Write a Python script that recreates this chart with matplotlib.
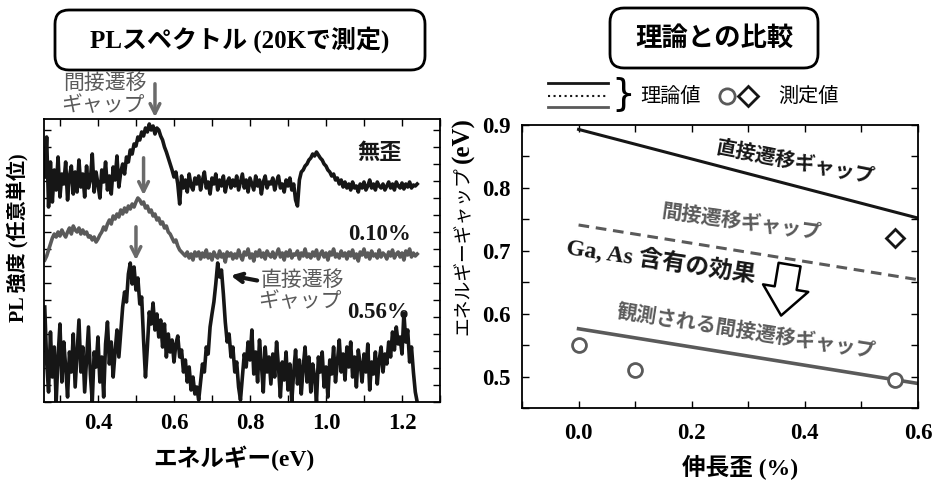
import numpy as np
import matplotlib
matplotlib.use('Agg')
import matplotlib.pyplot as plt
from matplotlib.patches import FancyBboxPatch, FancyArrowPatch
from matplotlib.lines import Line2D
from matplotlib.transforms import IdentityTransform
from matplotlib.ticker import MultipleLocator

plt.rcParams['font.family'] = ['Liberation Serif', 'Noto Sans CJK JP']
plt.rcParams['font.weight'] = 'bold'

JP = ['Noto Sans CJK JP', 'DejaVu Sans']
MIX = ['Liberation Serif', 'Noto Sans CJK JP']
GRIGIO = '#5a5a5a'
NERO = '#161616'

# energia dei spettri PL (eV), passo 0.005
energia = np.round(0.26 + 0.005 * np.arange(197), 3)

# intensita' PL (unita' arbitrarie, gia' sfalsate)
pl_senza = (
    [225, 265, 195, 240, 200, 232, 212, 245, 205, 228, 218, 240, 202, 226, 236, 208, 230, 210, 242, 215] +
    [228, 205, 236, 214, 222, 248, 210, 230, 218, 204, 232, 220, 240, 212, 226, 208, 235, 222, 246, 215] +
    [230, 238, 228, 245, 240, 252, 248, 258, 256, 265, 262, 270, 266, 274, 270, 278, 272, 276, 268, 274] +
    [272, 266, 262, 255, 250, 244, 238, 232, 225, 230, 218, 198, 226, 214, 222, 210, 228, 216, 212, 224] +
    [218, 226, 212, 222, 230, 214, 220, 208, 224, 218, 228, 212, 222, 216, 226, 210, 220, 224, 214, 222] +
    [216, 226, 212, 220, 228, 214, 222, 210, 224, 218, 212, 226, 216, 222, 208, 220, 226, 214, 220, 218] +
    [224, 212, 220, 226, 214, 218, 210, 222, 216, 224, 212, 218, 202, 196, 222, 230, 232, 236, 238, 242] +
    [244, 248, 246, 250, 247, 244, 242, 238, 236, 232, 230, 226, 228, 222, 224, 218, 222, 215, 220, 214] +
    [218, 212, 220, 214, 216, 210, 218, 214, 220, 212, 216, 222, 214, 218, 212, 220, 216, 214, 218, 212] +
    [216, 220, 214, 218, 212, 220, 216, 214, 219, 213, 218, 215, 220, 214, 217, 216, 218]
)
pl_010 = (
    [142, 146, 152, 158, 164, 168, 165, 170, 166, 172, 168, 165, 170, 174, 168, 176, 172, 170, 174, 168] +
    [172, 168, 170, 165, 166, 162, 165, 160, 163, 167, 170, 175, 172, 178, 182, 178, 186, 183, 188, 185] +
    [192, 188, 194, 190, 196, 193, 198, 195, 200, 204, 202, 198, 200, 194, 196, 190, 192, 186, 188, 182] +
    [184, 178, 180, 174, 176, 170, 168, 164, 160, 162, 156, 152, 150, 148, 146, 150, 144, 148, 142, 150] +
    [146, 150, 143, 149, 145, 152, 144, 148, 142, 150, 146, 144, 151, 145, 148, 140, 150, 146, 149, 143] +
    [148, 144, 152, 146, 142, 150, 147, 153, 144, 148, 141, 150, 146, 152, 145, 149, 143, 151, 147, 145] +
    [150, 144, 148, 153, 145, 149, 142, 150, 146, 152, 144, 148, 147, 151, 143, 149, 146, 153, 145, 148] +
    [144, 150, 146, 152, 143, 148, 151, 145, 149, 142, 150, 147, 153, 145, 148, 144, 151, 146, 149, 143] +
    [150, 146, 152, 144, 148, 141, 150, 147, 153, 145, 149, 143, 151, 146, 148, 144, 152, 145, 149, 147] +
    [143, 150, 146, 152, 144, 148, 150, 145, 149, 142, 151, 147, 153, 145, 149, 146, 148]
)
pl_056 = (
    [95, 40, 10, 70, 25, 55, 0, 45, 78, 20, 60, 35, 5, 50, 30, 68, 15, 48, 82, 30] +
    [55, 10, 42, 75, 28, 0, 50, 35, 65, 20, 45, 5, 58, 80, 38, 60, 25, 50, 72, 45] +
    [70, 95, 110, 100, 128, 139, 118, 135, 112, 124, 98, 105, 62, 25, 55, 90, 78, 99, 72, 88] +
    [65, 82, 55, 78, 45, 68, 50, 62, 40, 58, 66, 45, 52, 30, 42, 20, 35, 12, 25, 8] +
    [15, 2, 20, 38, 30, 55, 48, 75, 88, 100, 118, 139, 125, 132, 108, 80, 60, 68, 45, 55] +
    [30, 40, 15, 2, 25, 48, 35, 60, 42, 72, 28, 50, 20, 62, 38, 10, 55, 30, 45, 18] +
    [48, 25, 60, 35, 5, 40, 22, 50, 12, 38, 0, 30, 52, 18, 42, 8, 35, 55, 20, 45] +
    [10, 38, 25, 0, 45, 30, 50, 15, 35, 5, 42, 28, 55, 20, 40, 62, 30, 48, 22, 55] +
    [35, 60, 25, 45, 15, 52, 38, 20, 48, 30, 58, 12, 40, 28, 50, 18, 42, 55, 30, 48] +
    [38, 60, 45, 70, 52, 75, 58, 65, 48, 89, 60, 72, 40, 55, 30, 10, 0]
)

# confronto con la teoria
deform_teoria = [0.0, 0.6]
gap_diretto = [0.893, 0.752]
gap_indiretto = [0.741, 0.654]
gap_osservato = [0.576, 0.489]
deform_misura = [0.0, 0.1, 0.56]
gap_misura = [0.55, 0.51, 0.495]
deform_misura_dir = [0.56]
gap_misura_dir = [0.72]

fig = plt.figure(figsize=(9.38, 4.82), dpi=100)
W, H = 938, 482

# --- pannello sinistro: spettri PL ---
ax1 = fig.add_axes([44 / W, 80 / H, 396 / W, 283 / H])
ax1.plot(energia, pl_senza, color=NERO, lw=2.6)
ax1.plot(energia, pl_010, color=GRIGIO, lw=2.6)
ax1.plot(energia, pl_056, color=NERO, lw=2.6)
ax1.set_xlim(0.258, 1.30)
ax1.set_ylim(0, 283)
ax1.xaxis.set_major_locator(MultipleLocator(0.2))
ax1.xaxis.set_minor_locator(MultipleLocator(0.1))
ax1.yaxis.set_major_locator(MultipleLocator(17))
ax1.tick_params(which='both', direction='in', top=True, right=True, width=1, length=5)
ax1.tick_params(axis='x', labelsize=16.5, pad=8)
ax1.tick_params(axis='y', labelleft=False)
for s in ax1.spines.values():
    s.set_linewidth(1.3)

freccia_grigia = dict(arrowstyle='->,head_length=0.7,head_width=0.35', color='#6a6a6a', lw=2.5)
ax1.annotate('', xy=(0.55, 282), xytext=(0.55, 321), arrowprops=freccia_grigia, annotation_clip=False)
ax1.annotate('', xy=(0.52, 204), xytext=(0.52, 247), arrowprops=freccia_grigia)
ax1.annotate('', xy=(0.50, 139), xytext=(0.50, 178), arrowprops=freccia_grigia)
ax1.annotate('', xy=(0.742, 127), xytext=(0.826, 121),
             arrowprops=dict(arrowstyle='->,head_length=0.6,head_width=0.3', color=NERO, lw=3))

ax1.text(0.418, 319, '間接遷移', family=JP, weight='normal', fontsize=15, color=GRIGIO,
         ha='center', va='center', clip_on=False)
ax1.text(0.413, 297, 'ギャップ', family=JP, weight='normal', fontsize=15, color=GRIGIO,
         ha='center', va='center', clip_on=False)
ax1.text(0.937, 122, '直接遷移', family=JP, weight='normal', fontsize=15, color=GRIGIO,
         ha='center', va='center')
ax1.text(0.932, 101, 'ギャップ', family=JP, weight='normal', fontsize=15, color=GRIGIO,
         ha='center', va='center')
ax1.text(1.142, 250, '無歪', family=JP, weight='bold', fontsize=16, color=NERO, ha='center', va='center')
ax1.text(1.142, 167, '0.10%', fontsize=16.5, color=NERO, ha='center', va='center')
ax1.text(1.137, 90, '0.56%', fontsize=16.5, color=NERO, ha='center', va='center')

# --- pannello destro: confronto con la teoria ---
ax2 = fig.add_axes([522 / W, 74 / H, 396 / W, 283 / H])
ax2.plot(deform_teoria, gap_diretto, color=NERO, lw=2.2)
ax2.plot(deform_teoria, gap_indiretto, color=GRIGIO, lw=2.2, dashes=(3.5, 2.2))
ax2.plot(deform_teoria, gap_osservato, color=GRIGIO, lw=2.6)
ax2.plot(deform_misura, gap_misura, 'o', mfc='white', mec=GRIGIO, ms=10, mew=2)
ax2.plot(deform_misura_dir, gap_misura_dir, 'D', mfc='white', mec=NERO, ms=9.5, mew=2)
ax2.set_xlim(-0.1, 0.6)
ax2.set_ylim(0.45, 0.9)
ax2.xaxis.set_major_locator(MultipleLocator(0.2))
ax2.xaxis.set_minor_locator(MultipleLocator(0.1))
ax2.yaxis.set_major_locator(MultipleLocator(0.1))
ax2.yaxis.set_minor_locator(MultipleLocator(0.05))
ax2.tick_params(which='both', direction='in', top=True, right=True, width=1, length=5)
ax2.tick_params(axis='x', labelsize=16.5, pad=11)
ax2.tick_params(axis='y', labelsize=16.5, pad=8)
for s in ax2.spines.values():
    s.set_linewidth(1.3)

ax2.text(0.384, 0.841, '直接遷移ギャップ', family=JP, weight='bold', fontsize=14.5, color=NERO,
         rotation=-11, rotation_mode='anchor', ha='center', va='center')
ax2.text(0.287, 0.746, '間接遷移ギャップ', family=JP, weight='bold', fontsize=14.5, color=GRIGIO,
         rotation=-8, rotation_mode='anchor', ha='center', va='center')
ax2.text(0.145, 0.683, 'Ga, As 含有の効果', family=MIX, weight='bold', fontsize=17, color=NERO,
         rotation=-8.5, rotation_mode='anchor', ha='center', va='center')
ax2.text(0.297, 0.573, '観測される間接遷移ギャップ', family=JP, weight='bold', fontsize=14.5, color=GRIGIO,
         rotation=-9, rotation_mode='anchor', ha='center', va='center')
ax2.add_patch(FancyArrowPatch(posA=(0.373, 0.678), posB=(0.358, 0.597),
                              arrowstyle='simple,head_length=1.0,head_width=1.65,tail_width=0.8',
                              mutation_scale=20, fc='white', ec='black', lw=1.8,
                              shrinkA=0, shrinkB=0))

# --- etichette degli assi ---
fig.text(18 / W, 1 - 238 / H, 'PL 強度 (任意単位)', family=MIX, weight='bold', fontsize=14.5,
         rotation=90, ha='center', va='center')
fig.text(234 / W, 1 - 458 / H, 'エネルギー(eV)', family=MIX, weight='bold', fontsize=17,
         ha='center', va='center')
fig.text(740 / W, 1 - 467 / H, '伸長歪 (%)', family=MIX, weight='bold', fontsize=17,
         ha='center', va='center')
fig.text(463 / W, 1 - 251 / H, 'エネルギーギャップ', family=JP, weight='normal', fontsize=13.5,
         rotation=90, ha='center', va='center')
fig.text(463 / W, 1 - 140 / H, '(eV)', weight='bold', fontsize=18,
         rotation=90, ha='center', va='center')

# --- titoli nei riquadri arrotondati ---
for x0, y0, w, h in [(55, 412, 370, 60), (610, 414, 208, 60)]:
    fig.add_artist(FancyBboxPatch((x0, y0), w, h, boxstyle='round,pad=0,rounding_size=14',
                                  fc='white', ec='black', lw=2, transform=IdentityTransform()))
fig.text(240 / W, 1 - 40 / H, 'PLスペクトル (20Kで測定)', family=MIX, weight='bold', fontsize=18,
         ha='center', va='center')
fig.text(714 / W, 1 - 38 / H, '理論との比較', family=JP, weight='bold', fontsize=19,
         ha='center', va='center')

# --- legenda in alto a destra ---
for y, stile, colore in [(83, '-', NERO), (96, ':', NERO), (107, '-', GRIGIO)]:
    fig.add_artist(Line2D([548 / W, 608 / W], [1 - y / H, 1 - y / H], ls=stile, color=colore,
                          lw=2 if stile == '-' else 1.5, transform=fig.transFigure))
fig.text(623 / W, 1 - 95 / H, '}', family=['DejaVu Sans'], weight='normal', fontsize=27,
         ha='center', va='center')
fig.text(670 / W, 1 - 96 / H, '理論値', family=JP, weight='normal', fontsize=14.5, ha='center', va='center')
fig.add_artist(Line2D([727 / W], [1 - 96 / H], marker='o', mfc='white', mec=GRIGIO, ms=11, mew=2,
                      transform=fig.transFigure))
fig.add_artist(Line2D([748 / W], [1 - 96 / H], marker='D', mfc='white', mec=NERO, ms=10, mew=2,
                      transform=fig.transFigure))
fig.text(808 / W, 1 - 96 / H, '測定値', family=JP, weight='normal', fontsize=14.5, ha='center', va='center')

fig.savefig('out.png', dpi=100)
